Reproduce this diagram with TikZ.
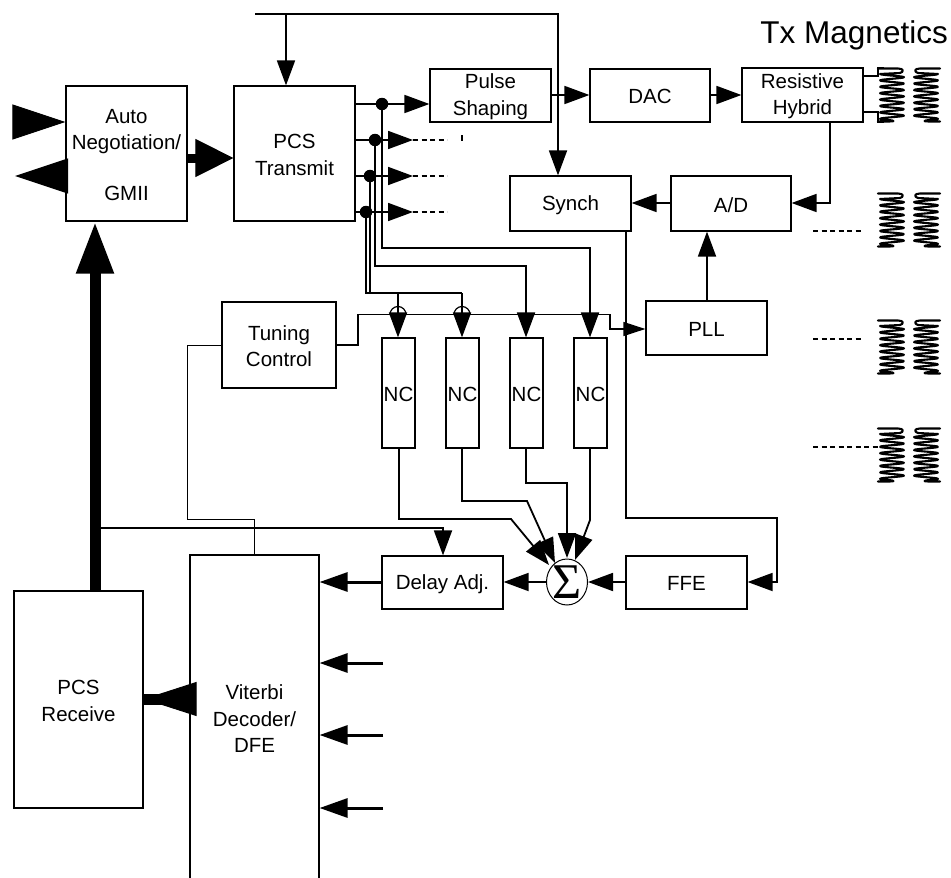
\documentclass[tikz,border=0pt]{standalone}
\usepackage{fontspec}
\setmainfont{Liberation Sans}
\newfontfamily\sigmafont{Liberation Serif}
\usetikzlibrary{arrows.meta,shapes.geometric}
\tikzset{
  box/.style={draw,line width=1.2pt,inner sep=0pt},
  boxtext/.style={inner sep=0pt,align=center,font=\fontsize{20.5}{26.5}\selectfont},
  conn/.style={line width=1.8pt,line join=miter},
  thinline/.style={line width=1pt},
  arr/.style={conn,-{Triangle[length=25pt,width=18pt]}},
  vitarr/.style={line width=3pt,-{Triangle[length=28pt,width=19pt]}},
  bigarr/.style={line width=1pt,-{Triangle[length=53pt,width=35pt]}},
  dotn/.style={circle,fill=black,inner sep=0pt,minimum size=12.5pt},
  dashline/.style={line width=1.8pt,dash pattern=on 5pt off 3.5pt},
  coilline/.style={line width=2.1pt,line join=round,line cap=round},
}
\newcommand{\bx}[6]{%
  \pgfmathsetmacro{\bw}{#4-#2}\pgfmathsetmacro{\bh}{#5-#3}%
  \pgfmathsetmacro{\cxx}{(#2+#4)/2}\pgfmathsetmacro{\cyy}{(#3+#5)/2}%
  \node[box,minimum width=\bw pt,minimum height=\bh pt] (#1) at (\cxx,\cyy) {};
  \node[boxtext] (#1text) at (\cxx,\cyy+1.2) {#6};}
% #1 centre x, #2 top y, #3 side (+1 left coil, -1 right coil)
\newcommand{\coilshape}[3]{%
  \draw[coilline] ({#1-14*#3},{#2+0.5}) -- ({#1+6*#3},{#2+0.5}) .. controls ({#1+12*#3},{#2+0.5}) and ({#1+12*#3},{#2+4}) .. ({#1+8*#3},{#2+5})
    -- plot[smooth,domain=0:7.25,samples=90] ({#1-12*#3*cos(360*\x)},{#2+6+\x*6.4})
    .. controls ({#1+3*#3},{#2+53.5}) .. ({#1-14*#3},{#2+53.5});}
\begin{document}
\begin{tikzpicture}[x=1pt,y=-1pt]
\useasboundingbox (0,0) rectangle (951,878);
% boxes
\bx{auto}{66}{86}{187}{221}{Auto\\Negotiation/\\[24pt]GMII}
\bx{tx}{234}{86}{355}{221}{PCS\\Transmit}
\bx{pulse}{430}{69}{551}{122}{Pulse\\Shaping}
\bx{dac}{590}{69}{710}{122}{DAC}
\bx{hyb}{742}{68}{863}{122}{Resistive\\Hybrid}
\bx{synch}{510}{176}{631}{231}{Synch}
\bx{ad}{671}{176}{791}{231}{A/D}
\bx{pll}{646}{301}{767}{355}{PLL}
\bx{tune}{222}{302}{336}{388}{Tuning\\Control}
\bx{nca}{382}{338}{415}{448}{NC}
\bx{ncb}{446}{338}{479}{448}{NC}
\bx{ncc}{510}{338}{543}{448}{NC}
\bx{ncd}{574}{338}{607}{448}{NC}
\bx{delay}{382}{556}{503}{609}{Delay Adj.}
\bx{ffe}{626}{556}{747}{609}{FFE}
\bx{vit}{190}{555}{319}{880}{Viterbi\\Decoder/\\DFE}
\bx{rx}{14}{591}{143}{808}{PCS\\Receive}
\node[draw,ellipse,line width=1pt,minimum width=41pt,minimum height=46pt,inner sep=0pt] (sum) at (567,582) {};
\node[inner sep=0pt,font=\fontsize{50}{50}\selectfont\sigmafont] (sumlabel) at (567,582) {Σ};
\node[anchor=east,inner sep=0pt,font=\fontsize{31.5}{35}\selectfont] (title) at (948,35) {Tx Magnetics};
% dots
\node[dotn] (da) at (382,104) {};
\node[dotn] (db) at (375,140) {};
\node[dotn] (dc) at (370,176) {};
\node[dotn] (dd) at (366,212) {};
% free coordinates
\coordinate (top) at (255,14);
\coordinate (inl) at (13,122);
\coordinate (outl) at (15,176);
\coordinate (ea) at (413,140);
\coordinate (eb) at (413,176);
\coordinate (ec) at (413,212);
\coordinate (fa) at (447,140);
\coordinate (fb) at (447,176);
\coordinate (fc) at (447,212);
% top bus
\draw[conn] (top) -- (558,14) -- (558,60);
\draw[arr] (558,60) -- (synch.north -| 558,0);
\draw[arr] (286,14) -- (tx.north -| 286,0);
% chain
\draw[arr] (pulse.east |- 0,95) -- (dac.west |- 0,95);
\draw[arr] (dac.east |- 0,95) -- (hyb.west |- 0,95);
\draw[arr] (hyb.south -| 830,0) -- (830,203) -- (ad.east |- 0,203);
\draw[arr] (ad.west |- 0,203) -- (synch.east |- 0,203);
\draw[arr] (pll.north -| 707,0) -- (ad.south -| 707,0);
\draw[conn] (hyb.east |- 0,76) -- (878,76) -- (878,68) -- (884,68);
\draw[conn] (hyb.east |- 0,112) -- (878,112) -- (878,122) -- (884,122);
% left big arrows
\draw[bigarr] (inl) -- (auto.west |- 0,122);
\draw[bigarr] (auto.west |- 0,176) -- (outl);
\draw[line width=9pt] (auto.east |- 0,158) -- (197,158);
\draw[line width=1pt,-{Triangle[length=38pt,width=38pt]}] (195,158) -- (tx.west |- 0,158);
\draw[line width=11pt,-{Triangle[length=52pt,width=35pt]}] (rx.north -| 95,0) -- (auto.south -| 95,0);
% outputs of Transmit
\draw[arr] (tx.east |- da) -- (da) -- (pulse.west |- da);
\draw[arr] (tx.east |- db) -- (db) -- (ea);
\draw[arr] (tx.east |- dc) -- (dc) -- (eb);
\draw[arr] (tx.east |- dd) -- (dd) -- (ec);
\draw[dashline] (ea) -- (fa);
\draw[dashline] (eb) -- (fb);
\draw[dashline] (ec) -- (fc);
\draw[line width=1.5pt] (462,135) -- (462,141);
% to NCs
\draw[arr] (da) -- (382,248) -- (590,248) -- (ncd.north -| 590,0);
\draw[arr] (db) -- (375,266) -- (526,266) -- (ncc.north -| 526,0);
\draw[conn] (dc) -- (370,293);
\draw[conn] (dd) -- (366,293) -- (462,293);
\draw[arr] (462,293) -- (ncb.north -| 462,0);
\draw[arr] (398,293) -- (nca.north -| 398,0);
% tuning bus
\draw[line width=1.2pt] (tune.east |- 0,345) -- (358,345) -- (358,314.5) -- (610,314.5) -- (610,329) -- (623,329);
\draw[line width=1.2pt] (390,314.5) arc (180:360:8);
\draw[line width=1.2pt] (454,314.5) arc (180:360:8);
\draw[line width=1.2pt,-{Triangle[length=22pt,width=14pt]}] (623,329) -- (pll.west |- 0,329);
\draw[thinline] (tune.west |- 0,345) -- (187,345) -- (187,519) -- (254.5,519) -- (vit.north -| 254.5,0);
% synch to FFE
\draw[arr] (synch.south -| 626,0) -- (626,518) -- (777,518) -- (777,582) -- (ffe.east |- 0,582);
% NC to sum
\draw[arr] (nca.south -| 399,0) -- (399,519) -- (511,519) -- (549,565);
\draw[arr] (ncb.south -| 462,0) -- (462,501) -- (527,501) -- (555,563);
\draw[arr] (ncc.south -| 526,0) -- (526,483) -- (567,483) -- (567,558);
\draw[arr] (ncd.south -| 590,0) -- (590,520) -- (575,560);
% lower flow
\draw[arr] (ffe.west |- 0,582) -- (sum.east);
\draw[arr] (sum.west) -- (delay.east |- 0,582);
\draw[vitarr] (delay.west |- 0,582) -- (vit.east |- 0,582);
\draw[arr] (100,528) -- (443,528) -- (delay.north -| 443,0);
\coordinate (va) at (383,663);
\coordinate (vb) at (383,735);
\coordinate (vc) at (383,808);
\draw[vitarr] (va) -- (vit.east |- va);
\draw[vitarr] (vb) -- (vit.east |- vb);
\draw[vitarr] (vc) -- (vit.east |- vc);
% Viterbi to Receive
\draw[line width=11pt] (rx.east |- 0,699) -- (165,699);
\draw[line width=1pt,-{Triangle[length=53pt,width=34pt]}] (195,699) -- (rx.east |- 0,699);
% dashes to coils
\draw[dashline] (813,231) -- (863,231);
\draw[dashline] (813,339) -- (862,339);
\draw[dashline] (813,447) -- (878,447);
% coils
\foreach \yy in {68,193,320,428}{
  \coilshape{892}{\yy}{1}
  \coilshape{926}{\yy}{-1}
}
\end{tikzpicture}
\end{document}
